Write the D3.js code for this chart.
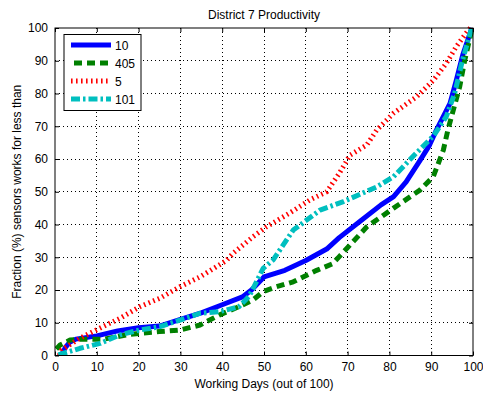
<!DOCTYPE html>
<html><head><meta charset="utf-8">
<script src="https://cdn.jsdelivr.net/npm/d3@7"></script>
<style>body{margin:0;background:#fff;} svg{display:block;font-family:"Liberation Sans",Arial,sans-serif;}</style>
</head><body>
<svg id="c" width="483" height="398"></svg>
<script>
const title = "District 7 Productivity";
const xLabel = "Working Days (out of 100)";
const yLabel = "Fraction (%) sensors works for less than";
const xTicks = [0,10,20,30,40,50,60,70,80,90,100];
const yTicks = [0,10,20,30,40,50,60,70,80,90,100];
const seriesNames = ["10","405","5","101"];
const s10 = [[1.5,0],[2.5,2.5],[3.5,4],[5,5],[10,6],[15,7.5],[20,8.5],[25,9],[30,11],[35,13],[40,15.5],[45,18],[47,20],[50,24],[55,26],[60,29],[65,32.5],[68,36],[73,41],[78,46],[81,48.5],[84,53],[87.3,59.5],[89.5,64],[91.3,69],[94.5,77],[96,84],[97.6,92],[99.3,98.4],[99.7,100]];
const s405 = [[0.3,2],[1.2,3.2],[3.6,4.7],[6,5],[11.7,5],[18,6.5],[25,7.3],[30,7.8],[34.7,9.3],[39.4,12.4],[44,14.9],[47.4,17],[49.8,19.5],[53,21],[57,22.5],[62.6,26],[66.4,28],[68,30.2],[74.6,39.3],[81,45],[87.3,50.5],[90.5,54.6],[92.9,62.7],[94,68.9],[95.3,75],[96.8,82],[98,90],[99.7,99.4]];
const s5 = [[1,0],[1.6,1.7],[6,5.3],[10.8,8.4],[15.6,11.4],[20.3,14.9],[25.1,17.5],[29.9,21],[34.7,24],[41,29],[42.6,31.2],[47.4,36.3],[50.6,39.3],[56,43.4],[61,47.5],[65,50],[68,55.6],[70.6,61.2],[74.6,64.3],[77,68.9],[81,74],[86.5,79],[90.5,84],[93.6,89.2],[96,94.3],[98.9,99.4],[99.4,100]];
const s101 = [[0.8,0.2],[6,2.2],[10.8,3.7],[15.6,6.3],[20.3,7.8],[25.1,8.8],[29.9,10.8],[34.7,12.9],[39.4,13.4],[44,14.9],[46.4,18],[48,22],[49.8,26.6],[52.2,29.2],[57,38.3],[63.4,44.4],[69,47],[77,51.5],[81,54.6],[85.8,61],[90.5,67],[93.6,72.9],[95.6,80],[97.3,89.2],[99.3,98.4],[99.7,100]];
const seriesData = [s10, s405, s5, s101];
const colors = ["#0000ff","#008000","#ff0000","#00bfbf"];
const dashes = [null,"8,5","1.6,3.4","9,3,2.5,3"];
const widths = [5,5,5,5];

const svg = d3.select("#c");
const m = {l:55, r:473, t:28, b:355.5};
const x = d3.scaleLinear().domain([0,100]).range([m.l,m.r]);
const y = d3.scaleLinear().domain([0,100]).range([m.b,m.t]);
const FS = 12;

svg.append("rect").attr("x",m.l).attr("y",m.t).attr("width",m.r-m.l).attr("height",m.b-m.t).attr("fill","#fff");

// grid
const g = svg.append("g");
xTicks.slice(1,-1).forEach(t=>g.append("line").attr("x1",x(t)).attr("x2",x(t)).attr("y1",m.t).attr("y2",m.b)
  .attr("stroke","#000").attr("stroke-width",1).attr("stroke-dasharray","1,3").attr("shape-rendering","crispEdges"));
yTicks.slice(1,-1).forEach(t=>g.append("line").attr("y1",y(t)).attr("y2",y(t)).attr("x1",m.l).attr("x2",m.r)
  .attr("stroke","#000").attr("stroke-width",1).attr("stroke-dasharray","1,3").attr("shape-rendering","crispEdges"));

// clip
svg.append("clipPath").attr("id","clip").append("rect").attr("x",m.l).attr("y",m.t-3).attr("width",m.r-m.l+3).attr("height",m.b-m.t+3);

const line = d3.line().x(d=>x(d[0])).y(d=>y(d[1]));
const lg = svg.append("g").attr("clip-path","url(#clip)");
seriesData.forEach((d,i)=>{
  lg.append("path").attr("d",line(d)).attr("fill","none").attr("stroke",colors[i]).attr("stroke-width",widths[i])
    .attr("stroke-dasharray",dashes[i]).attr("stroke-linejoin","round");
});

// axes
const xAxisB = d3.axisBottom(x).tickValues(xTicks).tickSize(-4).tickPadding(7);
const xAxisT = d3.axisTop(x).tickValues(xTicks).tickSize(-4).tickFormat("");
const yAxisL = d3.axisLeft(y).tickValues(yTicks).tickSize(-4).tickPadding(7);
const yAxisR = d3.axisRight(y).tickValues(yTicks).tickSize(-4).tickFormat("");
function style(sel){ sel.selectAll(".domain").attr("stroke","#000"); sel.selectAll("line").attr("stroke","#000");
  sel.selectAll("text").attr("font-size",FS).attr("fill","#000").attr("font-family","Liberation Sans, Arial, sans-serif"); }
svg.append("g").attr("transform",`translate(0,${m.b})`).call(xAxisB).call(style).call(s=>s.select(".domain").remove());
svg.append("g").attr("transform",`translate(0,${m.t})`).call(xAxisT).call(style).call(s=>s.select(".domain").remove());
svg.append("g").attr("transform",`translate(${m.l},0)`).call(yAxisL).call(style).call(s=>s.select(".domain").remove());
svg.append("g").attr("transform",`translate(${m.r},0)`).call(yAxisR).call(style).call(s=>s.select(".domain").remove());
svg.append("rect").attr("x",m.l).attr("y",m.t).attr("width",m.r-m.l).attr("height",m.b-m.t).attr("fill","none").attr("stroke","#000").attr("stroke-width",1);

// titles
svg.append("text").attr("x",(m.l+m.r)/2).attr("y",19).attr("text-anchor","middle").attr("font-size",FS).text(title);
svg.append("text").attr("x",(m.l+m.r)/2).attr("y",388).attr("text-anchor","middle").attr("font-size",FS).text(xLabel);
svg.append("text").attr("transform",`translate(21,${(m.t+m.b)/2}) rotate(-90)`).attr("text-anchor","middle").attr("font-size",FS).text(yLabel);

// legend
const leg = svg.append("g");
leg.append("rect").attr("x",64).attr("y",34.5).attr("width",77).attr("height",76).attr("fill","#fff").attr("stroke","#000").attr("stroke-width",1);
const legY = [45,63,81,99];
seriesNames.forEach((n,i)=>{
  leg.append("line").attr("x1",71).attr("x2",111).attr("y1",legY[i]).attr("y2",legY[i])
    .attr("stroke",colors[i]).attr("stroke-width",widths[i]).attr("stroke-dasharray",dashes[i])
    .attr("stroke-dashoffset", i===1? -3 : 0);
  leg.append("text").attr("x",115).attr("y",legY[i]+4.5).attr("font-size",FS).text(n);
});
</script>
</body></html>
